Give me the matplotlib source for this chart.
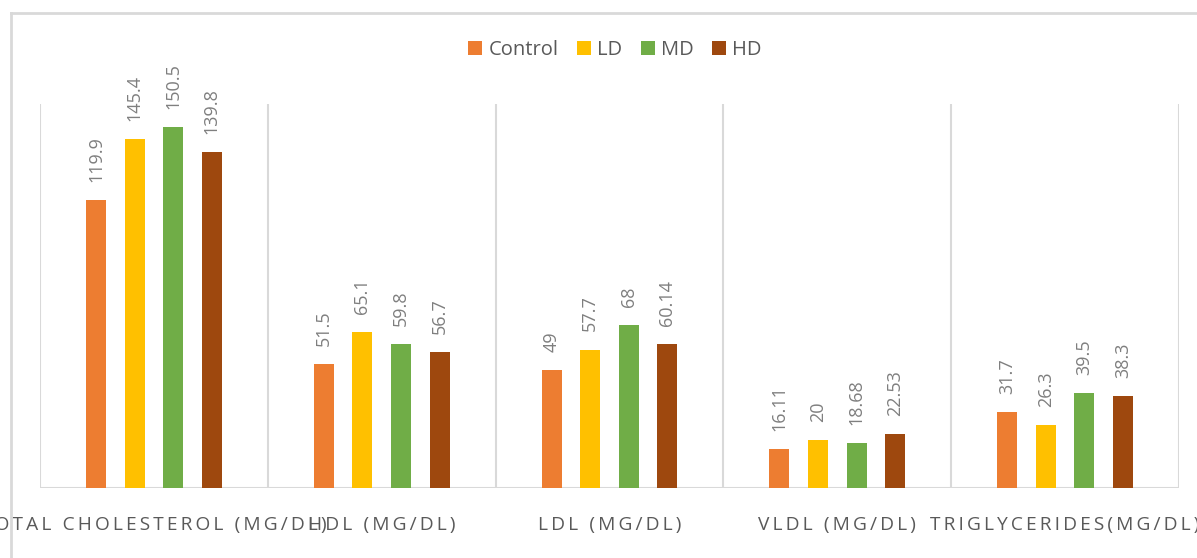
import matplotlib
matplotlib.use("Agg")
import matplotlib.pyplot as plt
import numpy as np
from matplotlib.lines import Line2D
from matplotlib.patches import Patch

# Lipid profile by treatment group
categories = ["TOTAL CHOLESTEROL (MG/DL)", "HDL (MG/DL)", "LDL (MG/DL)",
              "VLDL (MG/DL)", "TRIGLYCERIDES(MG/DL)"]
series_names = ["Control", "LD", "MD", "HD"]
control = [119.9, 51.5, 49, 16.11, 31.7]
ld = [145.4, 65.1, 57.7, 20, 26.3]
md = [150.5, 59.8, 68, 18.68, 39.5]
hd = [139.8, 56.7, 60.14, 22.53, 38.3]
value_labels = [
    ["119.9", "51.5", "49", "16.11", "31.7"],
    ["145.4", "65.1", "57.7", "20", "26.3"],
    ["150.5", "59.8", "68", "18.68", "39.5"],
    ["139.8", "56.7", "60.14", "22.53", "38.3"],
]
series_values = [control, ld, md, hd]
colors = ["#ED7D31", "#FFC000", "#70AD47", "#9E480E"]

TXT = "#595959"
VAL = "#7F7F7F"
GRID = "#D9D9D9"
FONT = ["Open Sans", "DejaVu Sans"]
plt.rcParams["font.family"] = FONT

W, H = 1197, 558
fig = plt.figure(figsize=(W / 100, H / 100), dpi=100)
ax = fig.add_axes([40 / W, 1 - 488 / H, (1179 - 40) / W, (488 - 104) / H])

x = np.arange(len(categories))
step = 0.1697
width = 0.0877
offsets = (np.arange(len(series_names)) - 1.5) * step

for vals, labs, off, col, name in zip(series_values, value_labels, offsets, colors, series_names):
    bars = ax.bar(x + off, vals, width=width, color=col, label=name, zorder=2)
    for b, lab in zip(bars, labs):
        ax.annotate(lab, (b.get_x() + b.get_width() / 2, b.get_height()),
                    xytext=(0, 13), textcoords="offset points",
                    rotation=90, ha="center", va="bottom",
                    fontsize=13, color=VAL)

ax.set_xlim(-0.5, len(categories) - 0.5)
ax.set_ylim(0, 160)

# category separators and baseline
for b in np.arange(-0.5, len(categories), 1.0):
    ax.axvline(b, color=GRID, lw=1.5, zorder=1)
ax.axhline(0, color=GRID, lw=1.5, zorder=1)

for s in ax.spines.values():
    s.set_visible(False)
ax.set_yticks([])
ax.set_xticks([])

# spaced-out category labels
for xi, cat in zip(x, categories):
    spaced = "\u2009".join(cat)
    ax.text(xi, -37 / 384 * 160, spaced, ha="center", va="center",
            fontsize=13.8, color=TXT, clip_on=False)

# legend
handles = [Patch(facecolor=c, edgecolor="none") for c in colors]
fig.legend(handles, series_names, loc="center", ncol=4,
           bbox_to_anchor=(615 / W, 1 - 50 / H), frameon=False,
           fontsize=14.5, labelcolor=TXT, handlelength=0.7, handleheight=0.7,
           handletextpad=0.3, columnspacing=0.92)

# outer frame of the chart area
fig.add_artist(Line2D([11 / W, 11 / W], [0, 1 - 13 / H], color=GRID, lw=2,
                      transform=fig.transFigure))
fig.add_artist(Line2D([11 / W, 1], [1 - 13 / H, 1 - 13 / H], color=GRID, lw=2,
                      transform=fig.transFigure))

fig.savefig("out.png", dpi=100, facecolor="white")
